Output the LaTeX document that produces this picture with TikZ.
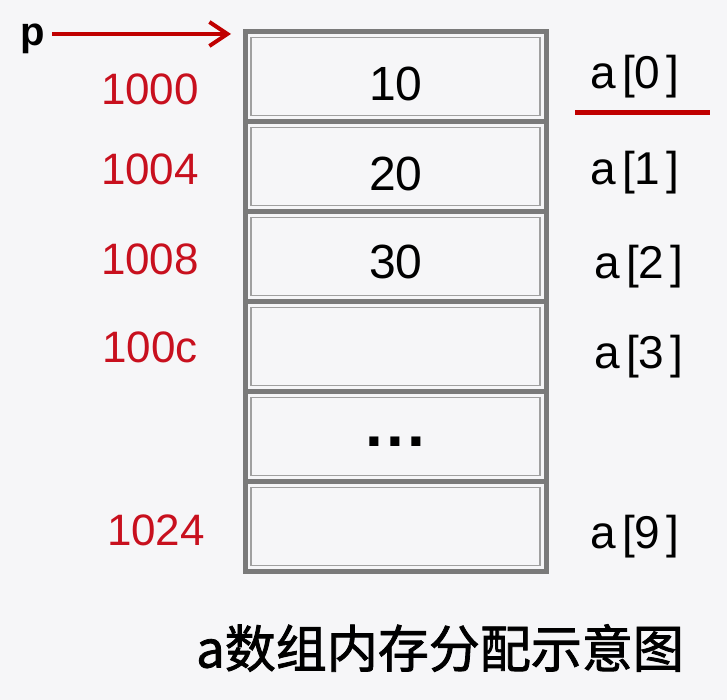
\documentclass[tikz,border=0pt]{standalone}
\usepackage{fontspec}
\setmainfont{Liberation Sans}
\newfontfamily\cjk{Noto Sans CJK SC}[FakeBold=1.6]
\usetikzlibrary{arrows.meta}
\definecolor{bg}{HTML}{F6F6F8}
\definecolor{framegray}{HTML}{7A7A7A}
\definecolor{innergray}{HTML}{A0A0A0}
\definecolor{addrred}{HTML}{C8101E}
\definecolor{arrowred}{HTML}{C00000}
\begin{document}
\begin{tikzpicture}[x=1pt,y=-1pt,
  cell/.style={draw=framegray, line width=5pt, fill=bg, minimum width=301pt, minimum height=90pt, inner sep=0pt, outer sep=0pt},
  innerline/.style={draw=innergray, line width=1.8pt},
  addr/.style={anchor=base, text=addrred, font=\fontsize{44}{44}\selectfont, inner sep=0pt},
  idx/.style={anchor=base, font=\fontsize{46}{46}\selectfont, inner sep=0pt},
  val/.style={anchor=base, font=\fontsize{48}{48}\selectfont, inner sep=0pt},
  parrow/.style={draw=arrowred, line width=4pt, -{Straight Barb[length=18pt,width=24pt]}},
  underline/.style={draw=arrowred, line width=5pt},
]
\useasboundingbox[fill=bg] (0,0) rectangle (727,700);

% memory cells
\foreach \i in {0,...,5}{
  \node[cell] (c\i) at (395.5, 76.5+90*\i) {};
}
\foreach \i in {0,...,5}{
  \draw[innerline] ([xshift=6pt,yshift=-6pt]c\i.north west) rectangle ([xshift=-6pt,yshift=6pt]c\i.south east);
}

% values
\node[val] (v0) at (396,101) {10};
\node[val] (v1) at (396,191) {20};
\node[val] (v2) at (396,279) {30};
\node[inner sep=0pt, font=\fontsize{64}{64}\selectfont\bfseries] (dots) at (395.5,442) {.\kern3.5pt.\kern3.5pt.};

% addresses
\node[addr] (ad0) at (150,105) {1000};
\node[addr] (ad1) at (150,185) {1004};
\node[addr] (ad2) at (150,275) {1008};
\node[addr] (ad3) at (150,362) {100c};
\node[addr] (ad9) at (156,545) {1024};

% element names
\node[idx] (e0) at (635,89) {a\kern6pt[0\kern6pt]};
\node[idx] (e1) at (635,185) {a\kern6pt[1\kern6pt]};
\node[idx] (e2) at (639,278) {a\kern6pt[2\kern6pt]};
\node[idx] (e3) at (639,368) {a\kern6pt[3\kern6pt]};
\node[idx] (e9) at (635,548) {a\kern6pt[9\kern6pt]};

% red underline
\coordinate (ul0) at (575,112.5);
\coordinate (ul1) at (710,112.5);
\draw[underline] (ul0) -- (ul1);

% pointer p
\node[anchor=base, inner sep=0pt, font=\fontsize{40}{40}\selectfont\bfseries] (p) at (33,46) {p};
\coordinate (ptip) at (231,34);
\draw[parrow, shorten <=7pt] (p.east |- ptip) -- (ptip);

% title
\node[font=\cjk\fontsize{51}{51}\selectfont, inner sep=0pt] (title) at (440,648) {a数组内存分配示意图};
\end{tikzpicture}
\end{document}
